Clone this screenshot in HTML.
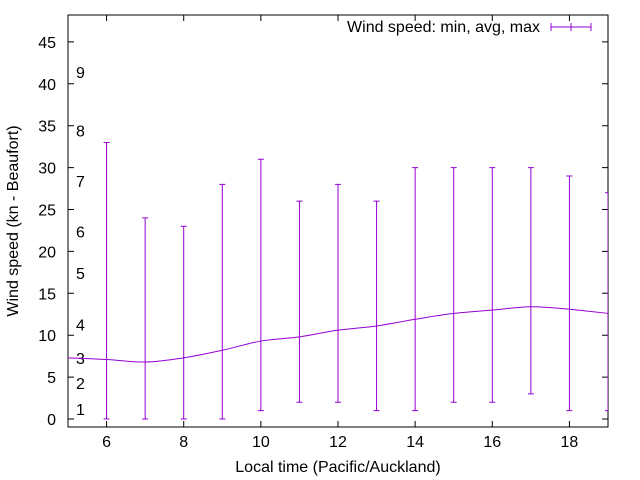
<!DOCTYPE html>
<html><head><meta charset="utf-8"><style>body{margin:0;background:#fff}svg{display:block;font-family:"Liberation Sans",sans-serif}</style></head>
<body>
<svg id="c" width="640" height="480">
<defs><clipPath id="cp"><rect x="68" y="15" width="540" height="412"/></clipPath></defs>
<rect x="68" y="15" width="540" height="412" fill="none" stroke="#000" stroke-width="1"/>
<text x="338" y="472" font-size="16" text-anchor="middle">Local time (Pacific/Auckland)</text>
<text x="18" y="221" font-size="16" text-anchor="middle" transform="rotate(-90 18 221)">Wind speed (kn - Beaufort)</text>
<g>
<text x="540" y="32" font-size="16" text-anchor="end">Wind speed: min, avg, max</text>
<path d="M551 27H591M551 23V31M591 23V31M571 23V31" stroke="#9400d3" fill="none"/>
</g>
<g id="g"></g>
<g id="m" clip-path="url(#cp)"></g>
</svg>
<script>
const hours=[6,7,8,9,10,11,12,13,14,15,16,17,18,19];
const minV=[0,0,0,0,1,2,2,1,1,2,2,3,1,1];
const maxV=[33,24,23,28,31,26,28,26,30,30,30,30,29,27];
const avgHours=[5,6,7,8,9,10,11,12,13,14,15,16,17,18,19];
const avgV=[7.3,7.1,6.8,7.3,8.2,9.3,9.8,10.6,11.1,11.9,12.6,13.0,13.4,13.1,12.6];
const xTicks=[6,8,10,12,14,16,18];
const yTicks=[0,5,10,15,20,25,30,35,40,45];
const bftLabels=["1","2","3","4","5","6","7","8","9"];
const bftVals=[1.2,4.3,7.3,11.3,17.4,22.4,28.4,34.4,41.4];
const X=v=>68+(v-5)*540/14, Y=v=>419-v*8.38;
const g=document.getElementById('g'),gm=document.getElementById('m'),NS='http://www.w3.org/2000/svg';
function mk(t,a,par){const e=document.createElementNS(NS,t);for(const k in a)e.setAttribute(k,a[k]);(par||g).appendChild(e);return e;}
xTicks.forEach(t=>{
 const p=mk('path',{d:`M${X(t)} 427v-6M${X(t)} 15v6`,stroke:'#000'});
 
 
 const l=mk('text',{x:X(t),y:447,'font-size':16,'text-anchor':'middle'});l.textContent=t;
 
 
});
yTicks.forEach(t=>{
 const p=mk('path',{d:`M68 ${Y(t)}h6M608 ${Y(t)}h-6`,stroke:'#000'});
 
 
 const l=mk('text',{x:56,y:Y(t)+6,'font-size':16,'text-anchor':'end'});l.textContent=t;
 
 
});
bftLabels.forEach((b,i)=>{
 const l=mk('text',{x:76,y:Y(bftVals[i])+6,'font-size':16});l.textContent=b;
 
 
});
hours.forEach((h,i)=>{
 const x=X(h),a=Y(minV[i]),b=Y(maxV[i]);
 const p=mk('path',{d:`M${x} ${a}V${b}M${x-3} ${a}h6M${x-3} ${b}h6`,stroke:'#9400d3',fill:'none'},gm);
 
 
});
let pts=avgHours.map((h,i)=>[X(h),Y(avgV[i])]),d=`M${pts[0][0]} ${pts[0][1]}`;
for(let i=0;i<pts.length-1;i++){const p0=pts[i-1]||pts[i],p1=pts[i],p2=pts[i+1],p3=pts[i+2]||p2;
 d+=`C${p1[0]+(p2[0]-p0[0])/6} ${p1[1]+(p2[1]-p0[1])/6} ${p2[0]-(p3[0]-p1[0])/6} ${p2[1]-(p3[1]-p1[1])/6} ${p2[0]} ${p2[1]}`;}
const ln=mk('path',{d:d,stroke:'#9400d3',fill:'none'},gm);


</script>
</body></html>
